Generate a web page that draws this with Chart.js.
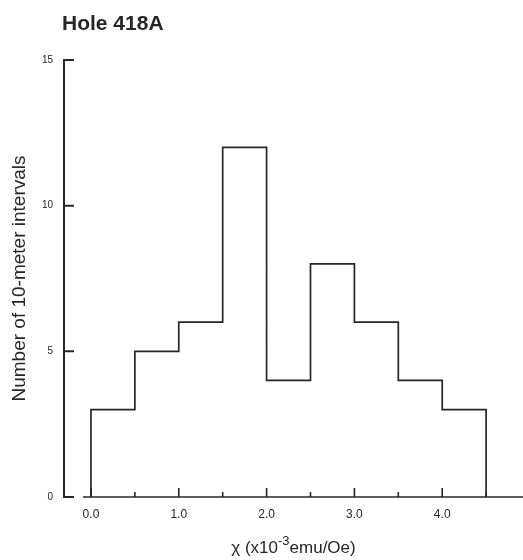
<!DOCTYPE html>
<html>
<head>
<meta charset="utf-8">
<title>Hole 418A</title>
<script src="https://cdn.jsdelivr.net/npm/chart.js@4.4.1/dist/chart.umd.min.js"></script>
<style>
  html, body { margin: 0; padding: 0; background: #fff; }
  #wrap { position: relative; width: 523px; height: 560px; }
</style>
</head>
<body>
<div id="wrap"><canvas id="hist"></canvas></div>
<script>
// bin edges (x10^-3 emu/Oe) and counts per bin
const binEdges = [0, 0.5, 1.0, 1.5, 2.0, 2.5, 3.0, 3.5, 4.0, 4.5];
const binCounts = [3, 5, 6, 12, 4, 8, 6, 4, 3];
const xTickVals = [0, 0.5, 1.0, 1.5, 2.0, 2.5, 3.0, 3.5, 4.0, 4.5];
const yTickVals = [0, 5, 10, 15];

const ink = '#262626';
const font = '"Liberation Sans", Arial, sans-serif';

// step outline: rise from 0 at first edge, drop to 0 at last edge
const pts = [{ x: binEdges[0], y: 0 }];
binCounts.forEach((c, i) => pts.push({ x: binEdges[i], y: c }));
pts.push({ x: binEdges[binEdges.length - 1], y: binCounts[binCounts.length - 1] });
pts.push({ x: binEdges[binEdges.length - 1], y: 0 });

// axes drawn by hand: inward ticks, x axis detached from y axis
const axesPlugin = {
  id: 'oldAxes',
  afterDraw(chart) {
    const { ctx, chartArea } = chart;
    const xs = chart.scales.x, ys = chart.scales.y;
    const left = chartArea.left, bottom = ys.getPixelForValue(0);
    ctx.save();
    ctx.strokeStyle = ink;
    ctx.lineWidth = 2;
    ctx.lineCap = 'butt';
    ctx.beginPath();
    ctx.moveTo(left, ys.getPixelForValue(15) - 1);
    ctx.lineTo(left, bottom + 1);
    yTickVals.forEach(v => {
      const py = ys.getPixelForValue(v);
      ctx.moveTo(left, py);
      ctx.lineTo(left + 10, py);
    });
    ctx.stroke();

    ctx.lineWidth = 1.6;
    ctx.beginPath();
    ctx.moveTo(xs.getPixelForValue(-0.09), bottom);
    ctx.lineTo(chartArea.right, bottom);
    xTickVals.forEach(v => {
      const px = xs.getPixelForValue(v);
      const major = Math.abs(v - Math.round(v)) < 1e-9;
      ctx.moveTo(px, bottom);
      ctx.lineTo(px, bottom - (major ? 9 : 5));
    });
    ctx.stroke();

    ctx.fillStyle = ink;
    ctx.textBaseline = 'middle';
    ctx.font = 'bold 21px ' + font;
    ctx.fillText('Hole 418A', left - 2, 24);

    // x title with a real superscript
    ctx.textBaseline = 'alphabetic';
    const parts = [['χ (x10', 17, 0], ['-3', 13, -8], ['emu/Oe)', 17, 0]];
    let w = 0;
    parts.forEach(p => { ctx.font = p[1] + 'px ' + font; w += ctx.measureText(p[0]).width; });
    let cx = (chartArea.left + chartArea.right) / 2 - w / 2;
    parts.forEach(p => {
      ctx.font = p[1] + 'px ' + font;
      ctx.fillText(p[0], cx, 553 + p[2]);
      cx += ctx.measureText(p[0]).width;
    });
    ctx.restore();
  }
};

new Chart(document.getElementById('hist'), {
  type: 'line',
  data: {
    datasets: [{
      data: pts,
      stepped: 'before',
      borderColor: ink,
      borderWidth: 1.7,
      pointRadius: 0,
      fill: false,
      clip: false
    }]
  },
  options: {
    responsive: true,
    maintainAspectRatio: false,
    animation: false,
    layout: { padding: { top: 60, right: 0, left: 0, bottom: 0 } },
    plugins: { legend: { display: false }, tooltip: { enabled: false } },
    scales: {
      x: {
        type: 'linear',
        min: -0.307,
        max: 4.92,
        grid: { display: false, drawTicks: false },
        border: { display: false },
        afterBuildTicks: s => { s.ticks = xTickVals.map(v => ({ value: v })); },
        afterFit: s => { s.height = 63; },
        ticks: {
          autoSkip: false,
          maxRotation: 0,
          padding: 10,
          color: ink,
          font: { family: font, size: 12 },
          callback: v => Math.abs(v - Math.round(v)) < 1e-9 ? v.toFixed(1) : ''
        },
        title: { display: false }
      },
      y: {
        min: 0,
        max: 15,
        grid: { display: false, drawTicks: false },
        border: { display: false },
        afterBuildTicks: s => { s.ticks = yTickVals.map(v => ({ value: v })); },
        afterFit: s => { s.width = 64; },
        ticks: {
          padding: 11,
          color: ink,
          font: { family: font, size: 10 }
        },
        title: {
          display: true,
          text: 'Number of 10-meter intervals',
          color: ink,
          font: { family: font, size: 19 },
          padding: { top: 8, bottom: 0 }
        }
      }
    }
  },
  plugins: [axesPlugin]
});
</script>
</body>
</html>
